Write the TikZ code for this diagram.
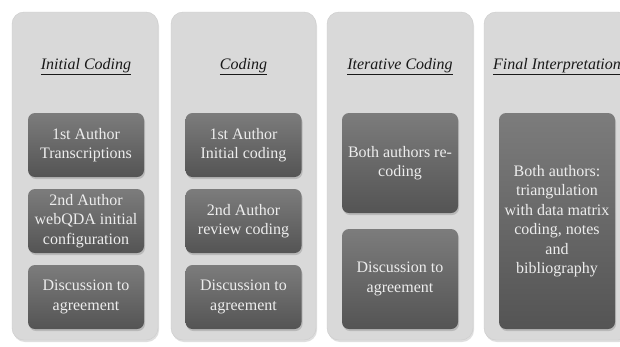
\documentclass[tikz,border=0pt]{standalone}
\usepackage{fontspec}
\setmainfont{Liberation Serif}
\usepackage{tikz}
\usepackage{xcolor}
\usetikzlibrary{shadows}
\definecolor{columngray}{RGB}{217,217,217}
\definecolor{boxtop}{RGB}{124,124,124}
\definecolor{boxbottom}{RGB}{84,84,84}
\tikzset{
    phase-column/.style = {draw=black!20, fill=columngray, rectangle, rounded corners=12pt, minimum width=146pt, minimum height=328pt, drop shadow={opacity=0.25, shadow xshift=1pt, shadow yshift=-2pt}},
    phase-title/.style = {font=\fontsize{16}{19}\selectfont\itshape, text=black!90},
    step-box/.style = {rectangle, rounded corners=7pt, top color=boxtop, bottom color=boxbottom, text=white!93!black, minimum width=116pt, align=center, font=\fontsize{16}{19.5}\selectfont, drop shadow={opacity=0.35, shadow xshift=1pt, shadow yshift=-2pt}},
}

\begin{document}
\begin{tikzpicture}[x=1pt,y=-1pt]
\useasboundingbox (0,0) rectangle (620,346);
\clip (0,0) rectangle (620,346);
\fill[white] (0,0) rectangle (620,346);
% columns
\node [phase-column] (col1) at (85,176) {};
\node [phase-column, minimum width=145pt] (col2) at (243.5,176) {};
\node [phase-column] (col3) at (400,176) {};
\node [phase-column] (col4) at (557,176) {};
% titles
\node [phase-title] (title1) at (86,67) {\underline{Initial Coding}};
\node [phase-title] (title2) at (243.5,67) {\underline{Coding}};
\node [phase-title] (title3) at (400,67) {\underline{Iterative Coding}};
\node [phase-title] (title4) at (557,67) {\underline{Final Interpretation}};
% initial coding
\node [step-box, minimum height=64pt] (transcr) at (86,145) {1st Author\\Transcriptions};
\node [step-box, minimum height=64pt] (config) at (86,221) {2nd Author\\webQDA initial\\configuration};
\node [step-box, minimum height=64pt] (agree1) at (86,297) {Discussion to\\agreement};
% coding
\node [step-box, minimum height=64pt] (initcode) at (243.5,145) {1st Author\\Initial coding};
\node [step-box, minimum height=64pt] (review) at (243.5,221) {2nd Author\\review coding};
\node [step-box, minimum height=64pt] (agree2) at (243.5,297) {Discussion to\\agreement};
% iterative coding
\node [step-box, minimum height=100pt] (recode) at (400,163) {Both authors re-\\coding};
\node [step-box, minimum height=100pt] (agree3) at (400,279) {Discussion to\\agreement};
% final interpretation
\node [step-box, minimum height=216pt] (triang) at (557,221) {Both authors:\\triangulation\\with data matrix\\coding, notes\\and\\bibliography};
\end{tikzpicture}
\end{document}
